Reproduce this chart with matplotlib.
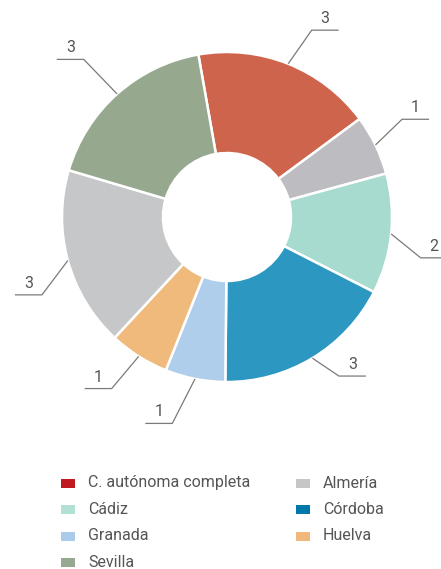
import numpy as np
import matplotlib.pyplot as plt
from matplotlib.patches import Rectangle

# data
slices = ['C. autónoma completa', 'Almería', 'Cádiz', 'Córdoba',
          'Granada', 'Huelva', 'Jaén', 'Sevilla']
values = [3, 1, 2, 3, 1, 1, 3, 3]
slice_colors = ['#CD644B', '#BDBDC1', '#A7DBCF', '#2C97C1',
                '#AECEEB', '#EFBA7C', '#C6C7C9', '#96A88E']

legend_names = ['C. autónoma completa', 'Almería', 'Cádiz', 'Córdoba',
                'Granada', 'Huelva', 'Sevilla']
legend_colors = ['#C0191F', '#C6C6C8', '#B3E0D5', '#0077A9',
                 '#AACBE9', '#F0B97B', '#97A890']

# leader line direction (deg) and length (px) per slice
lead_dir = [55, 44, -39, -34, -117, -130, -127, 134]
lead_len = [41, 37, 38, 32, 50, 42, 43, 48]

W, H = 441, 569
fig = plt.figure(figsize=(W / 100, H / 100), dpi=100)
ax = fig.add_axes([0, 0, 1, 1])

cx, cy = 227, H - 217
r_out, r_in = 165, 64
start = 100

wedges, _ = ax.pie(values, colors=slice_colors, startangle=start,
                   counterclock=False, center=(cx, cy), radius=r_out,
                   wedgeprops=dict(width=r_out - r_in, edgecolor='white',
                                   linewidth=1.8), frame=True)
ax.set_xlim(0, W)
ax.set_ylim(0, H)
ax.axis('off')

total = sum(values)
cum = 0
for i, v in enumerate(values):
    mid = np.radians(start - (cum + v / 2) / total * 360)
    cum += v
    x0 = cx + r_out * np.cos(mid)
    y0 = cy + r_out * np.sin(mid)
    d = np.radians(lead_dir[i])
    x1 = x0 + lead_len[i] * np.cos(d)
    y1 = y0 + lead_len[i] * np.sin(d)
    side = 1 if np.cos(d) > 0 else -1
    x2 = x1 + side * 27
    ax.plot([x0, x1, x2], [y0, y1, y1], color='#7a7a7a', lw=0.9,
            solid_capstyle='butt')
    ax.text((x1 + x2) / 2, y1 + 4, str(v), ha='center', va='bottom',
            fontsize=11.5, color='#555555', family='Roboto')

# legend
for i, name in enumerate(legend_names):
    row, col = i // 2, i % 2
    lx = 61 + col * 235
    ly = H - (483 + row * 26.5)
    ax.add_patch(Rectangle((lx, ly - 4.5), 14, 9, color=legend_colors[i], lw=0))
    ax.text(lx + 27, ly, name, ha='left', va='center', fontsize=11.5,
            color='#555555', family='Roboto')

fig.savefig('out.png', dpi=100)
